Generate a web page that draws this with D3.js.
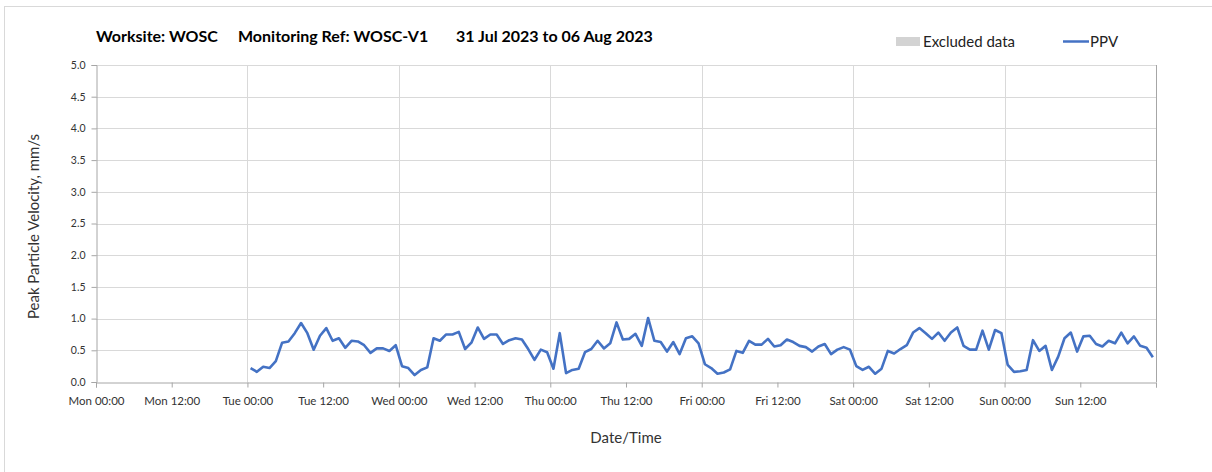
<!DOCTYPE html>
<html>
<head>
<meta charset="utf-8">
<script src="https://cdn.jsdelivr.net/npm/d3@7"></script>
<style>
  html, body { margin: 0; padding: 0; background: #fff; }
  svg { display: block; font-family: Lato, "Open Sans", sans-serif; }
</style>
</head>
<body>
<svg id="chart" width="1212" height="472"></svg>
<script>
// Hourly PPV readings (mm/s), first reading Tue 01 Aug 2023 00:30
const firstReading = "2023-08-01T00:30:00";
const ppvValues = [
  0.22, 0.16, 0.24, 0.22, 0.33, 0.62, 0.64, 0.77, 0.93, 0.77, 0.51, 0.73,
  0.85, 0.65, 0.69, 0.54, 0.65, 0.64, 0.58, 0.46, 0.53, 0.53, 0.49, 0.58,
  0.25, 0.22, 0.11, 0.19, 0.23, 0.69, 0.65, 0.75, 0.75, 0.79, 0.52, 0.62,
  0.86, 0.68, 0.75, 0.75, 0.60, 0.66, 0.69, 0.67, 0.52, 0.35, 0.51, 0.47,
  0.21, 0.77, 0.14, 0.19, 0.21, 0.47, 0.52, 0.65, 0.53, 0.61, 0.94, 0.67,
  0.68, 0.76, 0.57, 1.01, 0.65, 0.63, 0.48, 0.63, 0.44, 0.69, 0.72, 0.61,
  0.28, 0.22, 0.13, 0.15, 0.20, 0.49, 0.46, 0.65, 0.59, 0.59, 0.68, 0.56,
  0.58, 0.67, 0.63, 0.57, 0.55, 0.48, 0.56, 0.60, 0.44, 0.51, 0.55, 0.51,
  0.25, 0.19, 0.24, 0.13, 0.21, 0.49, 0.45, 0.52, 0.58, 0.78, 0.85, 0.77,
  0.68, 0.78, 0.65, 0.78, 0.86, 0.57, 0.51, 0.51, 0.81, 0.51, 0.82, 0.77,
  0.27, 0.16, 0.17, 0.19, 0.66, 0.49, 0.57, 0.19, 0.40, 0.69, 0.78, 0.48,
  0.72, 0.73, 0.60, 0.56, 0.65, 0.61, 0.78, 0.61, 0.72, 0.57, 0.54, 0.39
];
const yTicks = [0, 0.5, 1, 1.5, 2, 2.5, 3, 3.5, 4, 4.5, 5];
const rangeStart = "2023-07-31T00:00:00";
const rangeEnd = "2023-08-07T00:00:00";
const titleParts = ["Worksite: WOSC", "Monitoring Ref: WOSC-V1", "31 Jul 2023 to 06 Aug 2023"];
const legendLabels = ["Excluded data", "PPV"];

const svg = d3.select("#chart");
const m = { left: 96, right: 1156, top: 65, bottom: 382 };
const lineColor = "#4472c4";
const gridColor = "#d9d9d9";
const axisColor = "#a6a6a6";

const t0 = new Date(firstReading);
const data = ppvValues.map((v, i) => ({ t: d3.timeHour.offset(t0, i), v }));

const x = d3.scaleTime()
  .domain([new Date(rangeStart), new Date(rangeEnd)])
  .range([m.left, m.right]);
const y = d3.scaleLinear().domain([0, 5]).range([m.bottom, m.top]);

// outer frame (runs off the right and bottom edges)
svg.append("rect")
  .attr("x", 4.5).attr("y", 6.5).attr("width", 1220).attr("height", 480)
  .attr("fill", "none").attr("stroke", "#d9d9d9");

// title
const title = svg.append("g").attr("font-weight", "bold").attr("font-size", 16).attr("fill", "#000");
const titleX = [96, 238, 456];
titleParts.forEach((s, i) => title.append("text").attr("x", titleX[i]).attr("y", 42).text(s));

// legend
const lg = svg.append("g").attr("font-size", 15).attr("fill", "#222");
lg.append("rect").attr("x", 896).attr("y", 37).attr("width", 24).attr("height", 9).attr("fill", "#d3d3d3");
lg.append("text").attr("x", 923).attr("y", 47).text(legendLabels[0]);
lg.append("line").attr("x1", 1063).attr("x2", 1089).attr("y1", 41.5).attr("y2", 41.5)
  .attr("stroke", lineColor).attr("stroke-width", 2.5);
lg.append("text").attr("x", 1090).attr("y", 47).text(legendLabels[1]);

// horizontal gridlines
svg.append("g").selectAll("line").data(yTicks.filter(d => d > 0)).join("line")
  .attr("x1", m.left).attr("x2", m.right)
  .attr("y1", d => Math.round(y(d)) + 0.5).attr("y2", d => Math.round(y(d)) + 0.5)
  .attr("stroke", gridColor);

// vertical gridlines at midnight
const days = d3.timeDay.range(new Date(rangeStart), new Date(rangeEnd)).slice(1);
svg.append("g").selectAll("line").data(days).join("line")
  .attr("y1", m.top).attr("y2", m.bottom)
  .attr("x1", d => Math.round(x(d)) + 0.5).attr("x2", d => Math.round(x(d)) + 0.5)
  .attr("stroke", gridColor);

// right border of plot
svg.append("line").attr("x1", m.right + 0.5).attr("x2", m.right + 0.5)
  .attr("y1", m.top).attr("y2", m.bottom).attr("stroke", axisColor);

// y axis
const yAxis = d3.axisLeft(y).tickValues(yTicks).tickFormat(d3.format(".1f")).tickSize(5).tickPadding(6);
const gy = svg.append("g").attr("transform", `translate(${m.left + 0.5},0)`).call(yAxis);
gy.select(".domain").attr("stroke", axisColor);
gy.selectAll(".tick line").attr("stroke", axisColor);
gy.selectAll(".tick text").attr("font-family", "Lato, sans-serif").attr("font-size", 10.5).attr("fill", "#333");

// x axis
const xTickVals = d3.timeHour.every(12).range(new Date(rangeStart), d3.timeHour.offset(new Date(rangeEnd), 1));
const xAxis = d3.axisBottom(x).tickValues(xTickVals).tickSize(5).tickPadding(9)
  .tickFormat(d => (+d === +new Date(rangeEnd)) ? "" : d3.timeFormat("%a %H:%M")(d));
const gx = svg.append("g").attr("transform", `translate(0,${m.bottom + 0.5})`).call(xAxis);
gx.select(".domain").attr("stroke", axisColor);
gx.selectAll(".tick line").attr("stroke", axisColor);
gx.selectAll(".tick text").attr("font-family", "Lato, sans-serif").attr("font-size", 11.5).attr("fill", "#333");

// axis titles
svg.append("text").attr("transform", `translate(39,${(m.top + m.bottom) / 2 + 3}) rotate(-90)`)
  .attr("text-anchor", "middle").attr("font-size", 15).attr("fill", "#333")
  .text("Peak Particle Velocity, mm/s");
svg.append("text").attr("x", (m.left + m.right) / 2).attr("y", 443)
  .attr("text-anchor", "middle").attr("font-size", 15).attr("fill", "#333")
  .text("Date/Time");

// PPV line
svg.append("path").datum(data)
  .attr("fill", "none").attr("stroke", lineColor).attr("stroke-width", 2.6)
  .attr("stroke-linejoin", "round")
  .attr("d", d3.line().x(d => x(d.t)).y(d => y(d.v)));
</script>
</body>
</html>
